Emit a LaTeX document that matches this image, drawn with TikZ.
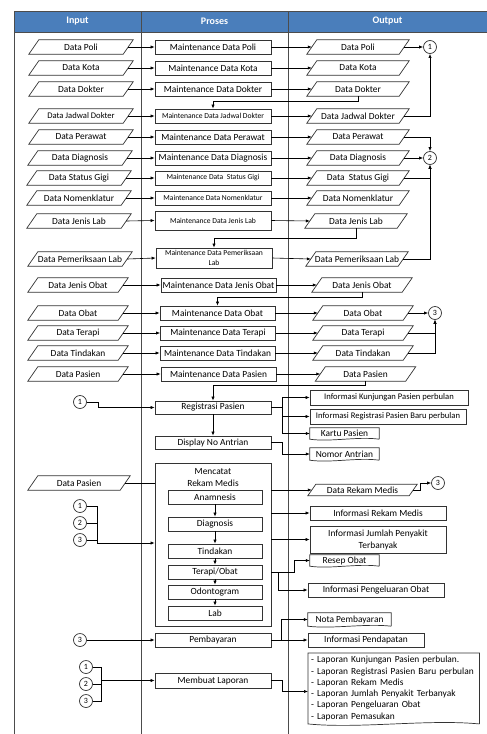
\documentclass[tikz,border=0pt]{standalone}
\usepackage{fontspec}
\setmainfont{Carlito}
\usetikzlibrary{arrows.meta,calc}
\newcommand\ioshape[2][5]{\draw[bd] ([xshift=-#1pt]#2.south west) -- ([xshift=#1pt]#2.north west) -- ([xshift=#1pt]#2.north east) -- ([xshift=-#1pt]#2.south east) -- cycle;}
\newcommand\docshape[2]{\draw[bd] (#1.south east) -- (#1.north east) -- (#1.north west) -- (#1.south west) .. controls ($(#1.south west)!0.3!(#1.south east)+(0,#2)$) and ($(#1.south west)!0.7!(#1.south east)+(0,-#2)$) .. (#1.south east);}
\begin{document}
\begin{tikzpicture}[x=1pt,y=-1pt,
  every node/.style={font=\fontsize{9.4}{12}\selectfont, text=black},
  bd/.style={draw=black!80, line width=0.7pt},
  tbl/.style={draw=black!70, line width=0.8pt},
  ln/.style={draw=black, line width=0.6pt},
  arr/.style={ln,-{Latex[length=4pt,width=3.2pt]}},
  procbox/.style={bd, fill=white, minimum height=14pt, inner sep=0pt},
  prA/.style={procbox, minimum width=116pt},
  prB/.style={procbox, minimum width=115pt},
  inA/.style={minimum height=14pt, inner sep=0pt, minimum width=94pt},
  inB/.style={minimum height=14pt, inner sep=0pt, minimum width=90pt},
  outA/.style={minimum height=14pt, inner sep=0pt, minimum width=92pt},
  outB/.style={minimum height=14pt, inner sep=0pt, minimum width=90pt},
  docbox/.style={inner sep=0pt},
  conn/.style={circle, bd, fill=white, minimum size=13pt, inner sep=0pt, font=\fontsize{8}{9}\selectfont},
  small/.style={font=\fontsize{7.6}{10}\selectfont},
  mid/.style={font=\fontsize{8.6}{10}\selectfont},
  hdrtext/.style={text=white, font=\fontsize{10}{12}\selectfont\bfseries},
]
\useasboundingbox (0,0) rectangle (487,734);
% table
\fill[fill={rgb,255:red,74;green,126;blue,187}] (14,11) rectangle (487,32);
\draw[tbl] (487,11) -- (14,11) -- (14,734);
\draw[tbl] (14,32) -- (487,32);
\draw[tbl] (141,11) -- (141,734);
\draw[tbl] (288,11) -- (288,734);
\node[hdrtext] (hin) at (77.5,21.5) {Input};
\node[hdrtext] (hpr) at (214.5,21.5) {Proses};
\node[hdrtext] (hout) at (387.5,21.5) {Output};

% rows 1-10
\node[inA] (i1) at (81,47) {Data Poli};
\node[prA] (p1) at (213,47) {Maintenance Data Poli};
\node[outA] (o1) at (358,47) {Data Poli};
\node[inA] (i2) at (81,68) {Data Kota};
\node[prA] (p2) at (213,68) {Maintenance Data Kota};
\node[outA] (o2) at (358,68) {Data Kota};
\node[inA] (i3) at (81,89) {Data Dokter};
\node[prA] (p3) at (213,89) {Maintenance Data Dokter};
\node[outA] (o3) at (358,89) {Data Dokter};
\node[inA,mid] (i4) at (81,116) {Data Jadwal Dokter};
\node[prA,small] (p4) at (213,116) {Maintenance Data Jadwal Dokter};
\node[outA] (o4) at (358,116) {Data Jadwal Dokter};
\node[inA] (i5) at (81,137) {Data Perawat};
\node[prA] (p5) at (213,137) {Maintenance Data Perawat};
\node[outA] (o5) at (358,137) {Data Perawat};
\node[inA] (i6) at (80,158) {Data Diagnosis};
\node[prA] (p6) at (213,158) {Maintenance Data Diagnosis};
\node[outA] (o6) at (358,158) {Data Diagnosis};
\node[inA] (i7) at (79,178) {Data Status Gigi};
\node[prA,small] (p7) at (213,178) {Maintenance Data \ Status Gigi};
\node[outA] (o7) at (358,178) {Data \ Status Gigi};
\node[inA] (i8) at (79,198) {Data Nomenklatur};
\node[prA,small] (p8) at (213,198) {Maintenance Data Nomenklatur};
\node[outA] (o8) at (358,198) {Data Nomenklatur};
\node[inA] (i9) at (79,221) {Data Jenis Lab};
\node[prA,small,minimum height=19pt] (p9) at (213,220.5) {Maintenance Data Jenis Lab};
\node[outA] (o9) at (356,221) {Data Jenis Lab};
\node[inA] (i10) at (80,259) {Data Pemeriksaan Lab};
\node[prA,small,minimum height=20pt,align=center] (p10) at (214,258) {Maintenance Data Pemeriksaan\\Lab};
\node[outA] (o10) at (357,259) {Data Pemeriksaan Lab};
% rows 11-15
\node[inB] (i11) at (78,285) {Data Jenis Obat};
\node[prB] (p11) at (218.5,285) {Maintenance Data Jenis Obat};
\node[outB] (o11) at (362,285) {Data Jenis Obat};
\node[inB] (i12) at (78,313) {Data Obat};
\node[prB] (p12) at (217.5,313) {Maintenance Data Obat};
\node[outB] (o12) at (363,313) {Data Obat};
\node[inB] (i13) at (78,333) {Data Terapi};
\node[prB] (p13) at (218,333) {Maintenance Data Terapi};
\node[outB] (o13) at (363,333) {Data Terapi};
\node[inB] (i14) at (78,353) {Data Tindakan};
\node[prB] (p14) at (217.5,353) {Maintenance Data Tindakan};
\node[outB] (o14) at (363,353) {Data Tindakan};
\node[inB] (i15) at (78,374) {Data Pasien};
\node[prB] (p15) at (218.5,374) {Maintenance Data Pasien};
\node[outB] (o15) at (365.5,374) {Data Pasien};

\foreach \n in {i1,o1,i2,o2,i3,o3,i4,o4,i5,o5,i6,o6,i7,o7,i8,o8,i9,o9,i10,o10,i11,o11,i12,o12,i13,o13,i14,o14,i15,o15}{\ioshape{\n}}

\foreach \k in {1,...,15}{
  \draw[arr] (i\k.east) -- (p\k.west);
  \draw[arr] (p\k.east) -- (o\k.west);
}

% connectors upper
\node[conn] (c1) at (430,47) {1};
\node[conn] (c2) at (430,158) {2};
\node[conn] (c3) at (435,313) {3};
\draw[arr] (o1.east) -- (c1.west);
\draw[arr] (o4.east) -| (c1.south);
\draw[arr] (o3.south) -- ++(0,5) -| (p4.north);
\draw[arr] (o5.east) -| (c2.north);
\draw[arr] (o6.east) -- (c2.west);
\draw[arr] (o7.east) -| (c2.south);
\draw[arr] (o10.east) -| (c2.south);
\draw[arr] (o9.south) -- ++(0,10) -| (p10.north);
\draw[arr] (o11.south) -- ++(0,5) -| (p12.north);
\draw[arr] (o12.east) -- (c3.west);
\draw[arr] (o13.east) -| (c3.south);
\draw[arr] (o14.east) -| (c3.south);

% registrasi
\node[prA,minimum height=13pt] (reg) at (213,407.5) {Registrasi Pasien};
\node[prA,minimum height=13pt] (disp) at (213,442.5) {Display No Antrian};
\draw[arr] (o15.south) -- ++(0,4) -| (reg.north);
\draw[arr] (reg.south) -- (disp.north);
\node[conn] (r1) at (80,402) {1};
\draw[arr] (r1.east) -- ++(11.5,0) |- (reg.west);
\node[procbox,mid,minimum width=158pt,minimum height=15pt] (ik) at (389,397.5) {Informasi Kunjungan Pasien perbulan};
\node[procbox,mid,minimum width=156pt,minimum height=15pt] (ir) at (388,416.5) {Informasi Registrasi Pasien Baru perbulan};
\node[docbox,minimum width=69pt,minimum height=11pt] (kp) at (344.5,433.5) {Kartu Pasien};
\node[docbox,minimum width=69pt,minimum height=12pt] (na) at (344.5,454) {Nomor Antrian};
\docshape{kp}{3}
\docshape{na}{3}
\coordinate (rj) at (282,407.5);
\draw[ln] (reg.east) -- (rj);
\draw[arr] (rj) |- (ik.west);
\draw[arr] (rj) |- (ir.west);
\draw[arr] (rj) |- (kp.west);
\draw[arr] (disp.east) -- ++(11,0) |- (na.west);

% mencatat rekam medis
\node[procbox,minimum width=116pt,minimum height=163pt,
  label={[anchor=north,align=center,yshift=-2pt]north:Mencatat\\Rekam Medis}] (mrm) at (213,544.5) {};
\node[procbox,minimum width=94pt] (an) at (215,497) {Anamnesis};
\node[procbox,minimum width=94pt] (dg) at (215,524) {Diagnosis};
\node[procbox,minimum width=94pt] (td) at (215,551) {Tindakan};
\node[procbox,minimum width=94pt] (tob) at (215,572) {Terapi/Obat};
\node[procbox,minimum width=94pt] (odo) at (215,592) {Odontogram};
\node[procbox,minimum width=94pt] (lab) at (215,613) {Lab};
\draw[arr] (an) -- (dg);
\draw[arr] (dg) -- (td);
\draw[arr] (td) -- (tob);
\draw[arr] (tob) -- (odo);
\draw[arr] (odo) -- (lab);

\node[inB,minimum width=92pt] (dp2) at (79,483) {Data Pasien};
\ioshape{dp2}
\draw[ln] (dp2.east) -- (dp2.east -| mrm.west);
\node[conn] (m1) at (80,506) {1};
\node[conn] (m2) at (80,523) {2};
\node[conn] (m3) at (80,540) {3};
\coordinate (mj) at (97,543);
\draw[ln] (m1.east) -| (mj);
\draw[ln] (m2.east) -| (mj);
\draw[ln] (m3.east) -| (mj);
\draw[arr] (mj) -- (mj -| mrm.west);

\node[minimum width=101pt,minimum height=11pt,inner sep=0pt] (drm) at (362.5,490) {Data Rekam Medis};
\ioshape[4]{drm}
\node[conn] (rm3) at (438,483) {3};
\draw[arr] (drm.east) -- ++(7,0) |- (rm3.west);
\node[procbox,minimum width=136pt] (irm) at (378,513) {Informasi Rekam Medis};
\node[procbox,minimum width=136pt,minimum height=27pt,align=center] (ijp) at (378,539.5) {Informasi Jumlah Penyakit\\Terbanyak};
\node[docbox,minimum width=69pt,minimum height=11pt] (ro) at (344.5,560.5) {Resep Obat};
\docshape{ro}{3}
\node[procbox,minimum width=136pt] (ipo) at (376,590) {Informasi Pengeluaran Obat};
\draw[arr] (mrm.east |- drm.west) -- (drm.west);
\draw[arr] (mrm.east |- irm.west) -- (irm.west);
\draw[arr] (mrm.east |- ijp.west) -- (ijp.west);
\coordinate (tj) at (278,572);
\draw[arr] (mrm.east |- tob.east) -- ++(23,0) |- (ro.west);
\draw[arr] (tj) |- (ipo.west);

% pembayaran
\node[prA] (pb) at (213,640) {Pembayaran};
\node[conn] (p3c) at (80,640) {3};
\draw[arr] (p3c.east) -- (pb.west);
\node[docbox,minimum width=83pt,minimum height=13pt] (nota) at (349.5,619.5) {Nota Pembayaran};
\docshape{nota}{3}
\node[procbox,minimum width=116pt] (ipd) at (366,640) {Informasi Pendapatan};
\coordinate (pj) at (281,640);
\draw[arr] (pb.east) -- (ipd.west);
\draw[arr] (pj) |- (nota.west);

% laporan
\node[prA,minimum height=15pt] (ml) at (213,680.5) {Membuat Laporan};
\node[conn] (l1) at (86,667) {1};
\node[conn] (l2) at (86,684) {2};
\node[conn] (l3) at (86,701) {3};
\coordinate (lj) at (101,680.5);
\draw[ln] (l1.east) -| (lj);
\draw[ln] (l3.east) -| (lj);
\draw[ln] (l2.east) -- (l2.east -| lj);
\draw[arr] (lj) -- (ml.west);
\node[anchor=north west,inner xsep=3pt,inner ysep=3pt,text width=165pt,align=left,
  font=\fontsize{9.4}{11.3}\selectfont] (lap) at (308,653)
  {- Laporan Kunjungan Pasien perbulan.\\- Laporan Registrasi Pasien Baru perbulan\\- Laporan Rekam Medis\\- Laporan Jumlah Penyakit Terbanyak\\- Laporan Pengeluaran Obat\\- Laporan Pemasukan};
\docshape{lap}{5}
\draw[arr] (ml.east) -- ++(11,0) |- ([yshift=-3pt]lap.west);
\end{tikzpicture}
\end{document}
